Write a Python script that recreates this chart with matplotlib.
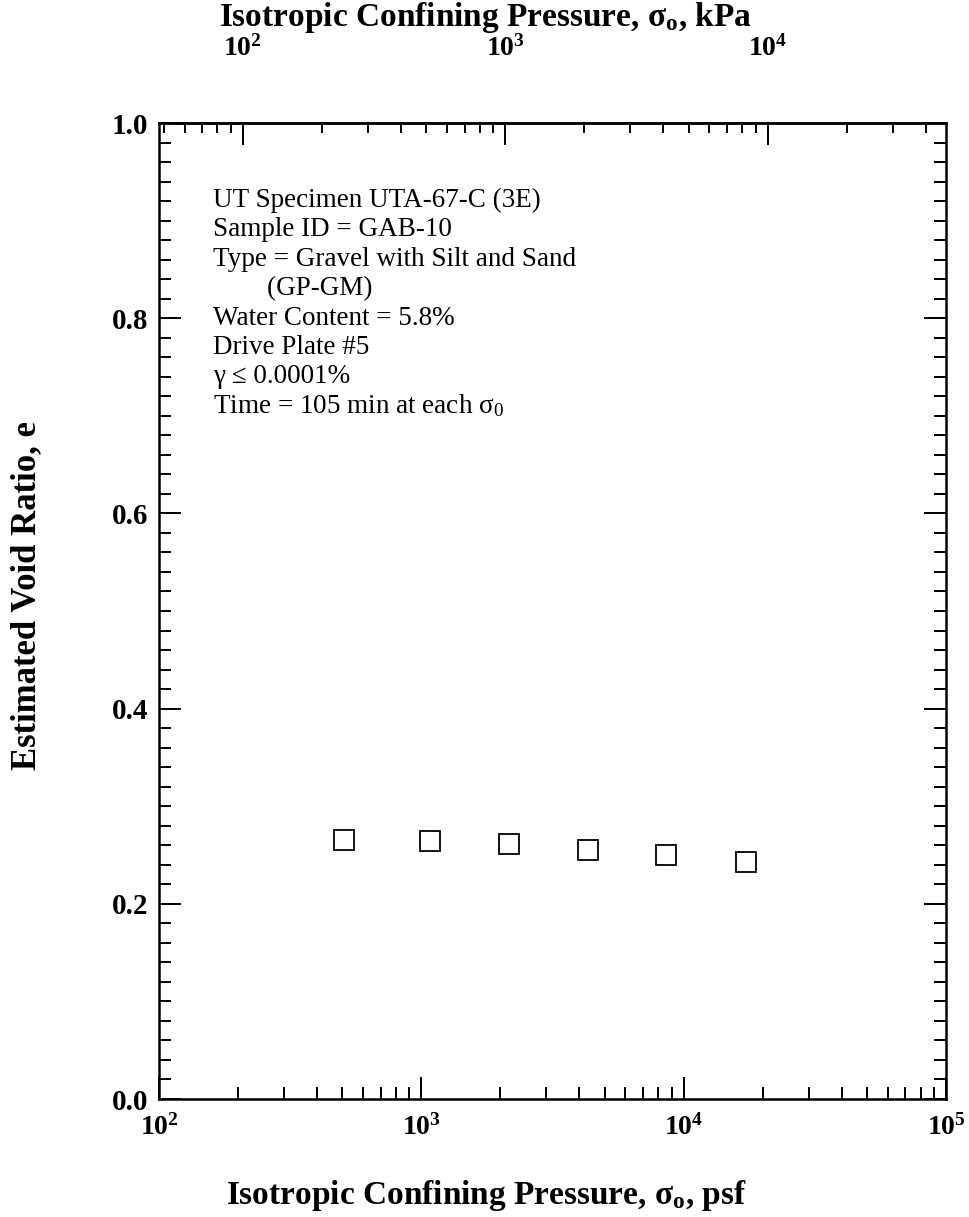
import matplotlib
matplotlib.use("Agg")
import matplotlib.pyplot as plt
from matplotlib.ticker import FixedLocator, LogLocator, MultipleLocator, NullFormatter

plt.rcParams["font.family"] = ["Liberation Serif", "DejaVu Serif"]
plt.rcParams["mathtext.fontset"] = "custom"
plt.rcParams["mathtext.rm"] = "Liberation Serif"
plt.rcParams["mathtext.it"] = "Liberation Serif:italic"
plt.rcParams["mathtext.bf"] = "Liberation Serif:bold"

# --- data ---
pressure_psf = [506, 1081, 2167, 4325, 8592, 17260]
void_ratio = [0.265, 0.264, 0.261, 0.255, 0.250, 0.243]

x_ticks = [1e2, 1e3, 1e4, 1e5]
x_tick_labels = [r"$\mathbf{10^{2}}$", r"$\mathbf{10^{3}}$", r"$\mathbf{10^{4}}$", r"$\mathbf{10^{5}}$"]
top_ticks = [1e2, 1e3, 1e4]
top_tick_labels = [r"$\mathbf{10^{2}}$", r"$\mathbf{10^{3}}$", r"$\mathbf{10^{4}}$"]
y_ticks = [0.0, 0.2, 0.4, 0.6, 0.8, 1.0]
y_tick_labels = ["0.0", "0.2", "0.4", "0.6", "0.8", "1.0"]

# top scale as drawn in the original (label 10^2 sits at ~209 psf)
TOP_FACTOR = 2.0885

info_lines = [
    "UT Specimen UTA-67-C (3E)",
    "Sample ID = GAB-10",
    "Type = Gravel with Silt and Sand",
    "        (GP-GM)",
    "Water Content = 5.8%",
    "Drive Plate #5",
    "\u03b3 \u2264 0.0001%",
    "Time = 105 min at each \u03c3$_0$",
]

W, H = 969, 1217
fig = plt.figure(figsize=(W / 100, H / 100), dpi=100)
ax = fig.add_axes([159 / W, 1 - 1099 / H, 787 / W, 976 / H])

ax.plot(pressure_psf, void_ratio, linestyle="none", marker="s", markersize=14,
        markerfacecolor="none", markeredgecolor="black", markeredgewidth=1.3)

ax.set_xscale("log")
ax.set_xlim(1e2, 1e5)
ax.set_ylim(0.0, 1.0)

ax.xaxis.set_major_locator(FixedLocator(x_ticks))
ax.set_xticklabels(x_tick_labels)
ax.xaxis.set_minor_locator(LogLocator(base=10, subs=range(2, 10)))
ax.xaxis.set_minor_formatter(NullFormatter())
ax.yaxis.set_major_locator(FixedLocator(y_ticks))
ax.set_yticklabels(y_tick_labels, fontweight="bold")
ax.yaxis.set_minor_locator(MultipleLocator(0.02))

for s in ax.spines.values():
    s.set_linewidth(1.8)

ax.tick_params(which="both", direction="in", top=False, right=True, width=1.4)
ax.tick_params(which="major", length=16)
ax.tick_params(which="minor", length=8.5)
ax.tick_params(axis="x", pad=11, labelsize=20)
ax.tick_params(axis="y", pad=8, labelsize=21)

top = ax.secondary_xaxis("top", functions=(lambda x: x / TOP_FACTOR, lambda x: x * TOP_FACTOR))
top.xaxis.set_major_locator(FixedLocator(top_ticks))
top.set_xticklabels(top_tick_labels)
top.xaxis.set_minor_locator(LogLocator(base=10, subs=range(2, 10)))
top.xaxis.set_minor_formatter(NullFormatter())
top.tick_params(which="both", direction="in", width=1.4, labelsize=20, pad=44)
top.tick_params(which="major", length=16)
top.tick_params(which="minor", length=7.5)
top.spines["top"].set_linewidth(1.8)

# axis titles
fig.text(486 / W, 1 - 1204 / H, "Isotropic Confining Pressure, \u03c3$_\\mathbf{o}$, psf",
         ha="center", va="baseline", fontsize=24, fontweight="bold")
fig.text(486 / W, 1 - 26 / H, "Isotropic Confining Pressure, \u03c3$_\\mathbf{o}$, kPa",
         ha="center", va="baseline", fontsize=24, fontweight="bold")
fig.text(27 / W, 1 - 596 / H, "Estimated Void Ratio, e", rotation=90,
         ha="center", va="center", fontsize=25, fontweight="bold")

# specimen notes
for i, line in enumerate(info_lines):
    fig.text(213 / W, 1 - (207 + i * 29.4) / H, line, ha="left", va="baseline", fontsize=19.5)

fig.savefig("out.png", dpi=100)
